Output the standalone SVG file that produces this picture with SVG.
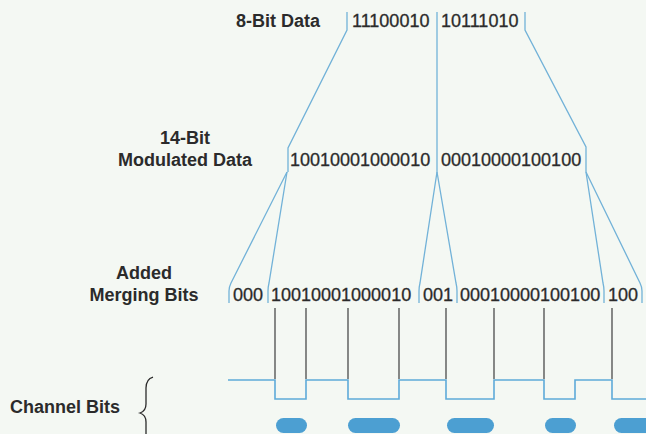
<svg xmlns="http://www.w3.org/2000/svg" width="646" height="434" viewBox="0 0 646 434">
<style>
.lbl{font-family:"Liberation Sans",Arial,sans-serif;font-size:18px;font-weight:bold;fill:#2b2b2b}
.bits{font-family:"Liberation Sans",Arial,sans-serif;font-size:18px;fill:#2b2b2b;stroke:#2b2b2b;stroke-width:0.3}
.con{fill:none;stroke:#72b2d8;stroke-width:1.3}
.tick{stroke:#2b2b2b;stroke-width:1.1}
.wave{fill:none;stroke:#5eaad9;stroke-width:1.6}
.pit{fill:#4c9fd2}
</style>
<rect width="646" height="434" fill="#f4f8f3"/>
<g id="labels">
<text class="lbl" x="236" y="27">8-Bit Data</text>
<text class="lbl" x="185" y="144" text-anchor="middle">14-Bit</text>
<text class="lbl" x="185" y="166" text-anchor="middle">Modulated Data</text>
<text class="lbl" x="144" y="279" text-anchor="middle">Added</text>
<text class="lbl" x="144" y="301" text-anchor="middle">Merging Bits</text>
<text class="lbl" x="10" y="413">Channel Bits</text>
</g>
<g id="row-8bit">
<text class="bits" x="352" y="27">11100010</text>
<text class="bits" x="441" y="27">10111010</text>
</g>
<g id="row-14bit">
<text class="bits" x="290" y="166">10010001000010</text>
<text class="bits" x="441" y="166">00010000100100</text>
</g>
<g id="row-merged">
<text class="bits" x="233" y="301">000</text>
<text class="bits" x="271" y="301">10010001000010</text>
<text class="bits" x="423" y="301">001</text>
<text class="bits" x="460" y="301">00010000100100</text>
<text class="bits" x="608" y="301">100</text>
</g>
<g id="connectors">
<path class="con" d="M347,12 V30 L288,148 V172"/>
<path class="con" d="M525,12 V30 L586,147 V172"/>
<path class="con" d="M437,12 V172"/>
<path class="con" d="M287,172 L231,283 Q229,287 229,291 V303"/>
<path class="con" d="M287,172 L269,283 Q268,287 268,291 V303"/>
<path class="con" d="M437,172 L420,283 Q419,287 419,291 V303"/>
<path class="con" d="M437,172 L456,283 Q457,287 457,291 V303"/>
<path class="con" d="M586,172 L603,283 Q604,287 604,291 V303"/>
<path class="con" d="M586,172 L640,283 Q642,287 642,291 V303"/>
</g>
<g id="ticks">
<line class="tick" x1="275" y1="308" x2="275" y2="379"/>
<line class="tick" x1="306" y1="308" x2="306" y2="379"/>
<line class="tick" x1="348" y1="308" x2="348" y2="379"/>
<line class="tick" x1="399" y1="308" x2="399" y2="379"/>
<line class="tick" x1="446" y1="308" x2="446" y2="379"/>
<line class="tick" x1="494" y1="308" x2="494" y2="379"/>
<line class="tick" x1="544" y1="308" x2="544" y2="379"/>
<line class="tick" x1="612" y1="308" x2="612" y2="379"/>
</g>
<g id="waveform">
<path class="wave" d="M228,380 H275 V399 H306 V380 H348 V399 H399 V380 H446 V399 H494 V380 H544 V399 H575 V380 H612 V399 H646"/>
</g>
<g id="pits">
<rect class="pit" x="276" y="418" width="31" height="15" rx="7.5"/>
<rect class="pit" x="348" y="418" width="52" height="15" rx="7.5"/>
<rect class="pit" x="447" y="418" width="47" height="15" rx="7.5"/>
<rect class="pit" x="545" y="418" width="31" height="15" rx="7.5"/>
<rect class="pit" x="614" y="418" width="40" height="15" rx="7.5"/>
</g>
<g id="brace">
<path d="M153,377 Q146,379 146,388 V404 Q146,411 140,413 Q146,415 146,422 V436" fill="none" stroke="#2b2b2b" stroke-width="1.3"/>
</g>
</svg>
